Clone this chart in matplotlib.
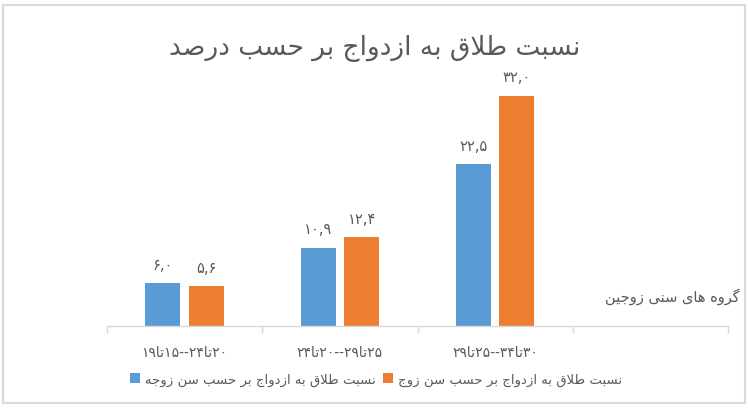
import numpy as np
import matplotlib
matplotlib.use("Agg")
import matplotlib.pyplot as plt
from matplotlib.patches import Rectangle

# data
categories = ["۲۰تا۲۴--۱۵تا۱۹", "۲۵تا۲۹--۲۰تا۲۴", "۳۰تا۳۴--۲۵تا۲۹", ""]
wife_vals = [6.0, 10.9, 22.5]
husband_vals = [5.6, 12.4, 32.0]
series_names = ["نسبت طلاق به ازدواج بر حسب سن زوجه",
                "نسبت طلاق به ازدواج بر حسب سن زوج"]
title = "نسبت طلاق به ازدواج بر حسب درصد"
group_label = "گروه های سنی زوجین"

# --- tiny arabic/persian shaper (matplotlib has no complex text layout) ---
# letter: (isolated, final, initial, medial); None for initial/medial = right joining only
FORMS = {
    "ا": (0xFE8D, 0xFE8E, None, None),
    "ب": (0xFE8F, 0xFE90, 0xFE91, 0xFE92),
    "ت": (0xFE95, 0xFE96, 0xFE97, 0xFE98),
    "ج": (0xFE9D, 0xFE9E, 0xFE9F, 0xFEA0),
    "ح": (0xFEA1, 0xFEA2, 0xFEA3, 0xFEA4),
    "د": (0xFEA9, 0xFEAA, None, None),
    "ر": (0xFEAD, 0xFEAE, None, None),
    "ز": (0xFEAF, 0xFEB0, None, None),
    "س": (0xFEB1, 0xFEB2, 0xFEB3, 0xFEB4),
    "ص": (0xFEB9, 0xFEBA, 0xFEBB, 0xFEBC),
    "ط": (0xFEC1, 0xFEC2, 0xFEC3, 0xFEC4),
    "ق": (0xFED5, 0xFED6, 0xFED7, 0xFED8),
    "ل": (0xFEDD, 0xFEDE, 0xFEDF, 0xFEE0),
    "ن": (0xFEE5, 0xFEE6, 0xFEE7, 0xFEE8),
    "ه": (0xFEE9, 0xFEEA, 0xFEEB, 0xFEEC),
    "و": (0xFEED, 0xFEEE, None, None),
    "ی": (0xFBFC, 0xFBFD, 0xFBFE, 0xFBFF),
    "گ": (0xFB92, 0xFB93, 0xFB94, 0xFB95),
}
FA_DIGITS = str.maketrans("0123456789", "۰۱۲۳۴۵۶۷۸۹")


def dual(c):
    return c in FORMS and FORMS[c][2] is not None


def shape(text):
    out = []
    i = 0
    n = len(text)
    while i < n:
        c = text[i]
        if c not in FORMS:
            out.append(c)
            i += 1
            continue
        prev_join = i > 0 and dual(text[i - 1])
        if c == "ل" and i + 1 < n and text[i + 1] == "ا":
            out.append(chr(0xFEFC if prev_join else 0xFEFB))
            i += 2
            continue
        next_join = dual(c) and i + 1 < n and text[i + 1] in FORMS
        f = FORMS[c]
        if prev_join and next_join:
            out.append(chr(f[3]))
        elif prev_join:
            out.append(chr(f[1]))
        elif next_join:
            out.append(chr(f[2]))
        else:
            out.append(chr(f[0]))
        i += 1
    return out


def fa(text):
    # shape then lay out right-to-left, keeping number runs left-to-right
    chars = shape(text)
    runs = []
    for ch in chars:
        is_num = ch in "۰۱۲۳۴۵۶۷۸۹0123456789,."
        if runs and is_num and runs[-1][0]:
            runs[-1][1].append(ch)
        else:
            runs.append((is_num, [ch]))
    vis = []
    for is_num, r in reversed(runs):
        vis.extend(r if is_num else reversed(r))
    return "".join(vis)


def num_label(v):
    return f"{v:.1f}".replace(".", ",").translate(FA_DIGITS)


plt.rcParams["font.family"] = ["DejaVu Sans"]
TXT = "#595959"
BLUE = "#5B9BD5"
ORANGE = "#ED7D31"
GRID = "#d9d9d9"

fig = plt.figure(figsize=(7.48, 4.10), dpi=100)
ax = fig.add_axes([107 / 748, 83 / 410, 621 / 748, 252 / 410])

x = np.arange(len(wife_vals))
w = 0.225
off = 0.14
b1 = ax.bar(x - off, wife_vals, w, color=BLUE, label=fa(series_names[0]))
b2 = ax.bar(x + off, husband_vals, w, color=ORANGE, label=fa(series_names[1]))

for bars, vals in ((b1, wife_vals), (b2, husband_vals)):
    for rect, v in zip(bars, vals):
        ax.annotate(num_label(v), (rect.get_x() + rect.get_width() / 2, v),
                    xytext=(0, 8), textcoords="offset points",
                    ha="center", va="bottom", fontsize=10.5, color=TXT)

ax.set_xlim(-0.5, len(categories) - 0.5)
ax.set_ylim(0, 35)
ax.set_yticks([])
for s in ("top", "right", "left"):
    ax.spines[s].set_visible(False)
ax.spines["bottom"].set_color(GRID)
ax.spines["bottom"].set_linewidth(1)

ax.set_xticks(np.arange(len(categories) + 1) - 0.5)
ax.set_xticklabels([])
ax.tick_params(axis="x", length=5, color=GRID, width=1)
ax.set_xticks(np.arange(len(categories)), minor=True)
ax.set_xticklabels([fa(c) for c in categories], minor=True, fontsize=10, color=TXT)
ax.tick_params(axis="x", which="minor", length=0, pad=14)

ax.text(740 / 748, 1 - 297 / 410, fa(group_label), transform=fig.transFigure,
        ha="right", va="center", fontsize=10.5, color=TXT)

fig.text(375 / 748, 1 - 48 / 410, fa(title), ha="center", va="center",
         fontsize=19, color=TXT)

leg = fig.legend(loc="center", bbox_to_anchor=(376 / 748, 1 - 380 / 410), ncol=2,
                 frameon=False, fontsize=9.5, handlelength=0.75, handleheight=0.75,
                 handletextpad=0.4, columnspacing=0.55)
for t in leg.get_texts():
    t.set_color(TXT)

fig.patches.append(Rectangle((2.5 / 748, 6 / 410), 742.5 / 748, 398 / 410,
                             transform=fig.transFigure, fill=False,
                             edgecolor=GRID, linewidth=1.5))

fig.savefig("out.png", dpi=100, facecolor="white")
